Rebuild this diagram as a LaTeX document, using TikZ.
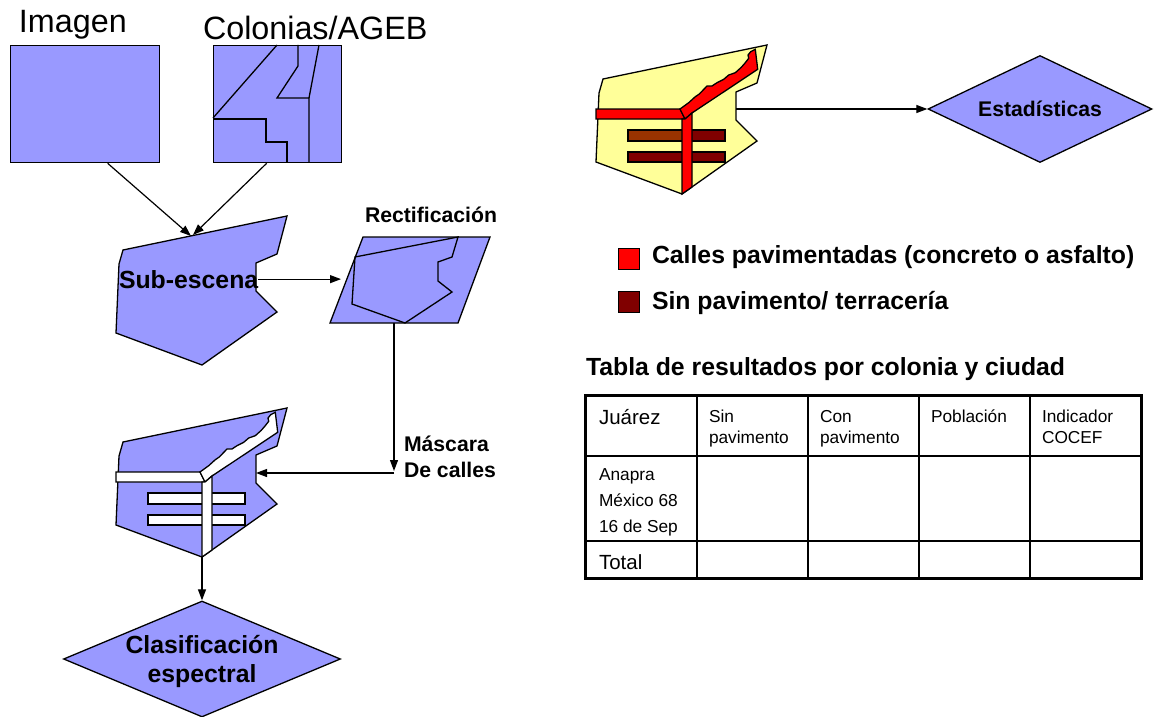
\documentclass[tikz,border=0pt]{standalone}
\usepackage{fontspec}
\setmainfont{Liberation Sans}
\usetikzlibrary{arrows.meta,shapes.geometric}
\definecolor{zblue}{HTML}{9999FF}
\definecolor{zyellow}{HTML}{FFFF99}
\definecolor{zred}{HTML}{FF0000}
\definecolor{zmaroon}{HTML}{800000}
\definecolor{zbrown}{HTML}{993300}
\newcommand\fs[1]{\fontsize{#1}{#1}\selectfont}
\newcommand\zonepath{(603,79) -- (767,45) -- (757,83) -- (736,92) -- (736,120) -- (757,141) -- (682,194) -- (596,162) -- (599,93) -- cycle}
\newcommand\zonestreets[3]{%
  \draw[outl, fill=#3] (628,130) rectangle (725,141);
  \fill[#2] (628,130) rectangle (682,141);
  \draw[outl] (628,130) rectangle (725,141);
  \draw[outl, fill=#3] (628,152) rectangle (725,162);
  \draw[outl, fill=#1] (596,109) -- (680,109) -- (685,119) -- (596,119) -- cycle;
  \draw[outl, fill=#1] (680,109) -- (688.7,102.7) -- (695.3,96.7) -- (699.3,94) -- (707,86) -- (712,86) -- (717,82.7) -- (723.7,79.3) -- (728.7,75) -- (735.3,72.7) -- (741.3,67.3) -- (745.3,62.7) -- (748.7,58.3) -- (748,55) -- (750.7,51.7) -- (755.3,49.3) -- (757.7,69.3) -- (692,113) -- (685,119) -- cycle;
  \draw[outl, fill=#1] (682,119) -- (685,119) -- (692,113) -- (692,187) -- (682,194) -- cycle;
}
\begin{document}
\begin{tikzpicture}[x=1pt,y=-1pt,
  outl/.style={draw=black, line width=1.3pt, line join=miter},
  shp/.style={outl, fill=zblue},
  arr/.style={draw=black, line width=1.2pt, -{Triangle[length=11pt,width=8pt]}},
  txt/.style={inner sep=0pt, outer sep=0pt},
  bl/.style={txt, font=\fs{21.2}\bfseries},
  bb/.style={txt, font=\fs{24.8}\bfseries},
  big/.style={txt, font=\fs{32.3}},
  tb/.style={txt, font=\fs{20.5}},
  ts/.style={txt, font=\fs{17.3}},
  dia/.style={diamond, shp, inner sep=0pt}
]
\useasboundingbox (0,0) rectangle (1154,717);

% --- Imagen and Colonias/AGEB
\node[big, anchor=base west] (imglbl) at (19,33) {Imagen};
\node[big, anchor=base west] (collbl) at (203,40) {Colonias/AGEB};
\node[shp, anchor=north west, minimum width=149pt, minimum height=117pt, inner sep=0pt] (img) at (10,45) {};
\node[shp, anchor=north west, minimum width=128pt, minimum height=117pt, inner sep=0pt] (col) at (213,45) {};
\draw[outl] (277,45) -- (213,118);
\draw[outl] (213,119) -- (266,119) -- (266,142) -- (287,142) -- (287,162);
\draw[outl] (298,45) -- (298,66) -- (277,98) -- (309,98) -- (309,162);
\draw[outl] (319,45) -- (309,98);

% --- Sub-escena
\begin{scope}[shift={(-480,171)}]
  \draw[shp] \zonepath;
\end{scope}
\coordinate (subinA) at (191,236);
\coordinate (subinB) at (193,235);
\draw[arr] ([xshift=22.5pt]img.south) -- (subinA);
\draw[arr] ([xshift=-11pt]col.south) -- (subinB);
\node[bb, anchor=base west] (sublbl) at (119,288) {Sub-escena};

% --- Rectificacion
\draw[shp] (363,237) -- (490,237) -- (458,323) -- (330,323) -- cycle;
\draw[outl] (355,257) -- (458,237) -- (452,257) -- (438,262) -- (438,281) -- (452,292) -- (405,323) -- (352,304) -- cycle;
\node[bl, anchor=base] (rectlbl) at (431,222) {Rectificación};
\coordinate (rectin) at (341,280);
\draw[arr] (sublbl.east) -- (sublbl.east -| rectin);

% --- Mascara de calles
\begin{scope}[shift={(-480,363)}]
  \draw[shp] \zonepath;
  \zonestreets{white}{white}{white}
\end{scope}
\coordinate (rectout) at (394,323);
\coordinate (corner) at (394,473);
\coordinate (maskin) at (256,473);
\coordinate (maskbot) at (202,557);
\draw[arr] (rectout) -- (394,471);
\draw[arr] (corner) -- (maskin);
\node[bl, anchor=base west] (mlbl1) at (404,451) {Máscara};
\node[bl, anchor=base west] (mlbl2) at (404,477) {De calles};

% --- Clasificacion espectral
\node[dia, minimum width=277pt, minimum height=116pt] (clas) at (202,659) {};
\node[bb, anchor=base] (clas1) at (202,653) {Clasificación};
\node[bb, anchor=base] (clas2) at (202,682) {espectral};
\draw[arr] (maskbot) -- (clas.north);

% --- Yellow zone and Estadisticas
\draw[outl, fill=zyellow] \zonepath;
\zonestreets{zred}{zbrown}{zmaroon}
\node[dia, minimum width=224pt, minimum height=107pt] (est) at (1040,109) {};
\node[bl, anchor=base] (estlbl) at (1040,117) {Estadísticas};
\coordinate (yout) at (736,109);
\draw[arr] (yout) -- (est.west);

% --- Legend
\node[draw=black, line width=1pt, fill=zred, minimum size=21pt, inner sep=0pt, anchor=north west] (lg1) at (618,248) {};
\node[draw=black, line width=1pt, fill=zmaroon, minimum size=21pt, inner sep=0pt, anchor=north west] (lg2) at (618,291) {};
\node[bb, anchor=base west] (lgt1) at (652,263) {Calles pavimentadas (concreto o asfalto)};
\node[bb, anchor=base west] (lgt2) at (652,309) {Sin pavimento/ terracería};

% --- Table
\node[bb, anchor=base west] (tabt) at (586,375) {Tabla de resultados por colonia y ciudad};
\draw[line width=1.4pt] (697,395) -- (697,578) (808,395) -- (808,578) (919,395) -- (919,578) (1030,395) -- (1030,578)
  (585,456) -- (1141,456) (585,541) -- (1141,541);
\draw[line width=3pt] (585,395) rectangle (1141,578);
\node[tb, anchor=base west] (c11) at (599,424) {Juárez};
\node[ts, anchor=base west] (c12a) at (709,422) {Sin};
\node[ts, anchor=base west] (c12b) at (709,443) {pavimento};
\node[ts, anchor=base west] (c13a) at (820,422) {Con};
\node[ts, anchor=base west] (c13b) at (820,443) {pavimento};
\node[ts, anchor=base west] (c14) at (931,422) {Población};
\node[ts, anchor=base west] (c15a) at (1042,422) {Indicador};
\node[ts, anchor=base west] (c15b) at (1042,443) {COCEF};
\node[ts, anchor=base west] (c21) at (599,480) {Anapra};
\node[ts, anchor=base west] (c22) at (599,506) {México 68};
\node[ts, anchor=base west] (c23) at (599,532) {16 de Sep};
\node[tb, anchor=base west] (c31) at (599,569) {Total};
\end{tikzpicture}
\end{document}
